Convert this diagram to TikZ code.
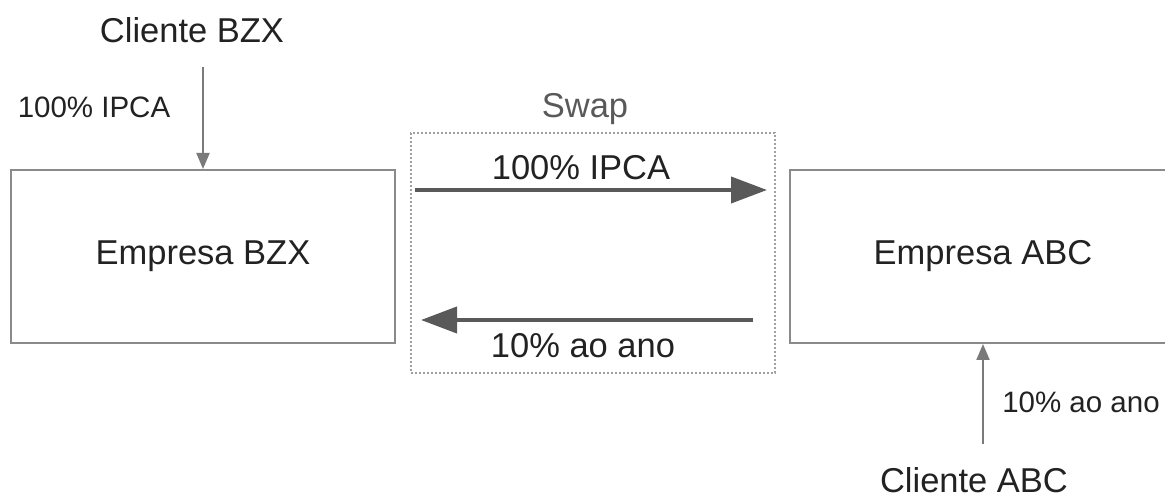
\documentclass[tikz,border=0pt]{standalone}
\usepackage{fontspec}
\setmainfont{Liberation Sans}
\usetikzlibrary{arrows.meta, positioning, calc}

\definecolor{texto}{HTML}{222222}
\definecolor{borda}{HTML}{8A8A8A}
\definecolor{seta}{HTML}{595959}
\definecolor{setaclara}{HTML}{7A7A7A}
\definecolor{pontilhado}{HTML}{A0A0A0}

\begin{document}
\begin{tikzpicture}[x=1pt, y=1pt,
    every node/.style = {text=texto, font=\fontsize{34.5}{40}\selectfont},
    empresa/.style = {draw=borda, line width=2pt, minimum width=384pt, minimum height=173pt},
    rotulo/.style = {font=\fontsize{29.5}{34}\selectfont, anchor=base},
    swaparrow/.style = {draw=seta, line width=4pt, -{Triangle[length=36pt, width=26pt]}},
    fluxo/.style = {draw=setaclara, line width=2pt, -{Triangle[length=16pt, width=13pt]}}]
\useasboundingbox (0,0) rectangle (1165,498);

% the two companies
\node (bzx) [empresa] at (203,241.5) {Empresa BZX};
\node (abc) [empresa, minimum width=386pt] at (983,241.5) {Empresa ABC};

% dotted frame of the swap
\node (swap) [draw=pontilhado, dotted, line width=2pt, minimum width=364pt, minimum height=240pt] at (593,245) {};
\node (swaplbl) [anchor=base, text=seta] at (585,380) {Swap};

% payments exchanged in the swap
\draw [swaparrow, shorten <=19pt, shorten >=22pt]
    ($ (bzx.north east) + (0,-21) $) -- ($ (abc.north west) + (0,-21) $);
\node (ipca) [anchor=base] at (581,318) {100\% IPCA};
\draw [swaparrow, shorten <=36pt, shorten >=25pt]
    ($ (abc.south west) + (0,24) $) -- ($ (bzx.south east) + (0,24) $);
\node (juros) [anchor=base] at (583,140) {10\% ao ano};

% clients paying each company
\node (cbzx) [anchor=base] at (192,455) {Cliente BZX};
\coordinate (bzxin) at ($ (bzx.north) + (0,102) $);
\draw [fluxo] (bzxin) -- (bzx.north);
\node (ipcacli) [rotulo] at (94,380) {100\% IPCA};

\node (cabc) [anchor=base] at (974,5) {Cliente ABC};
\coordinate (abcin) at ($ (abc.south) + (0,-100) $);
\draw [fluxo] (abcin) -- (abc.south);
\node (juroscli) [rotulo] at (1081,85) {10\% ao ano};

\end{tikzpicture}
\end{document}
